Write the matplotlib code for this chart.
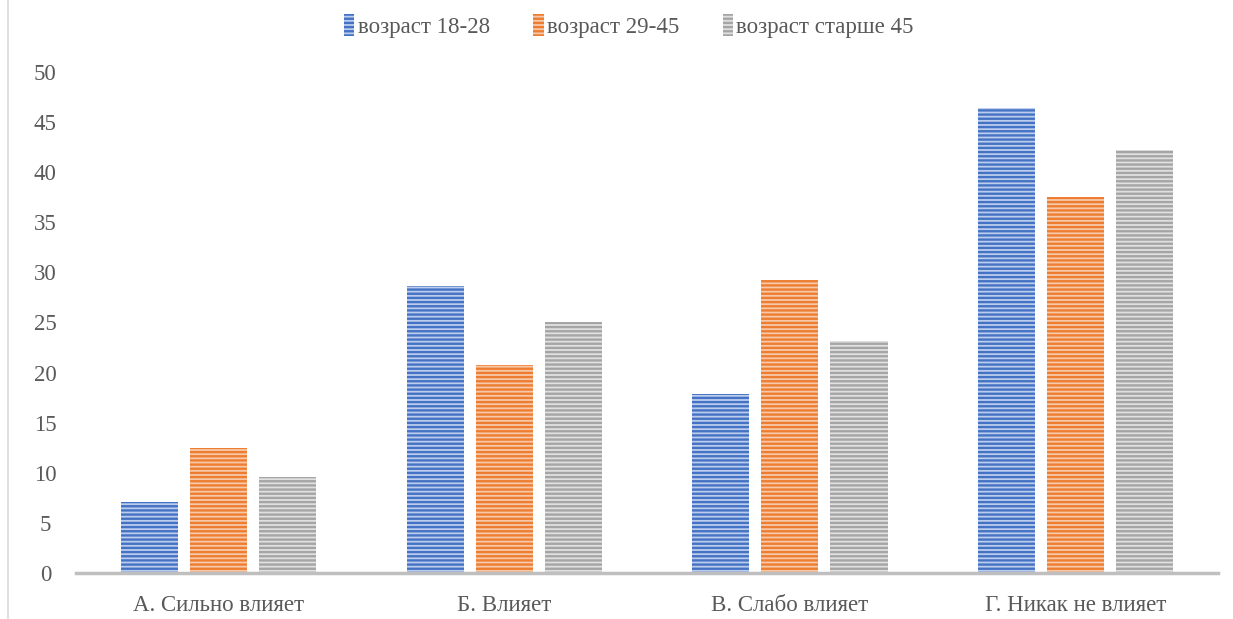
import numpy as np
import matplotlib.pyplot as plt
from matplotlib.lines import Line2D
from matplotlib.patches import Patch

plt.rcParams['font.family'] = ['Liberation Serif', 'DejaVu Serif']
plt.rcParams['hatch.linewidth'] = 1.7

categories = ["А. Сильно влияет", "Б. Влияет", "В. Слабо влияет", "Г. Никак не влияет"]
series_names = ["возраст 18-28", "возраст 29-45", "возраст старше 45"]
age_18_28 = [7.1, 28.6, 17.9, 46.4]
age_29_45 = [12.5, 20.8, 29.2, 37.5]
age_45_plus = [9.6, 25.0, 23.2, 42.2]

line_colors = ["#4472C4", "#ED7D31", "#A5A5A5"]
fill_colors = ["#BCCCEC", "#F7C9AA", "#E0E0E0"]
text_color = "#595959"

fig = plt.figure(figsize=(12.33, 6.19), dpi=100)
ax = fig.add_axes([0.0616, 0.0743, 0.9264, 0.8094])

x = np.arange(len(categories))
width = 0.2
offset = 0.242
data = [age_18_28, age_29_45, age_45_plus]
for i, vals in enumerate(data):
    ax.bar(x + (i - 1) * offset, vals, width, color=fill_colors[i],
           edgecolor=line_colors[i], hatch="----", linewidth=0)

ax.set_xlim(-0.5, len(categories) - 0.5)
ax.set_ylim(0, 50)
ax.set_yticks(np.arange(0, 51, 5))
ax.set_xticks(x)
ax.set_xticklabels(categories)
ax.tick_params(axis="both", length=0, labelsize=16.5, colors=text_color)
ax.tick_params(axis="x", pad=16)
ax.tick_params(axis="y", pad=22)
for lbl in ax.get_yticklabels():
    lbl.set_horizontalalignment("center")
for side in ["top", "right", "left"]:
    ax.spines[side].set_visible(False)
ax.spines["bottom"].set_color("#BFBFBF")
ax.spines["bottom"].set_linewidth(2.5)

handles = [Patch(facecolor=fill_colors[i], edgecolor=line_colors[i], hatch="----",
                 linewidth=0) for i in range(3)]
fig.legend(handles, series_names, loc="upper center", bbox_to_anchor=(0.51, 1.01),
           ncol=3, frameon=False, fontsize=16.5, handlelength=0.45, handleheight=1.1,
           handletextpad=0.15, columnspacing=1.9, labelcolor=text_color)

fig.add_artist(Line2D([8 / 1233, 8 / 1233], [0.0, 1.0], color="#D9D9D9", lw=1.2))

fig.savefig("out.png", dpi=100)
